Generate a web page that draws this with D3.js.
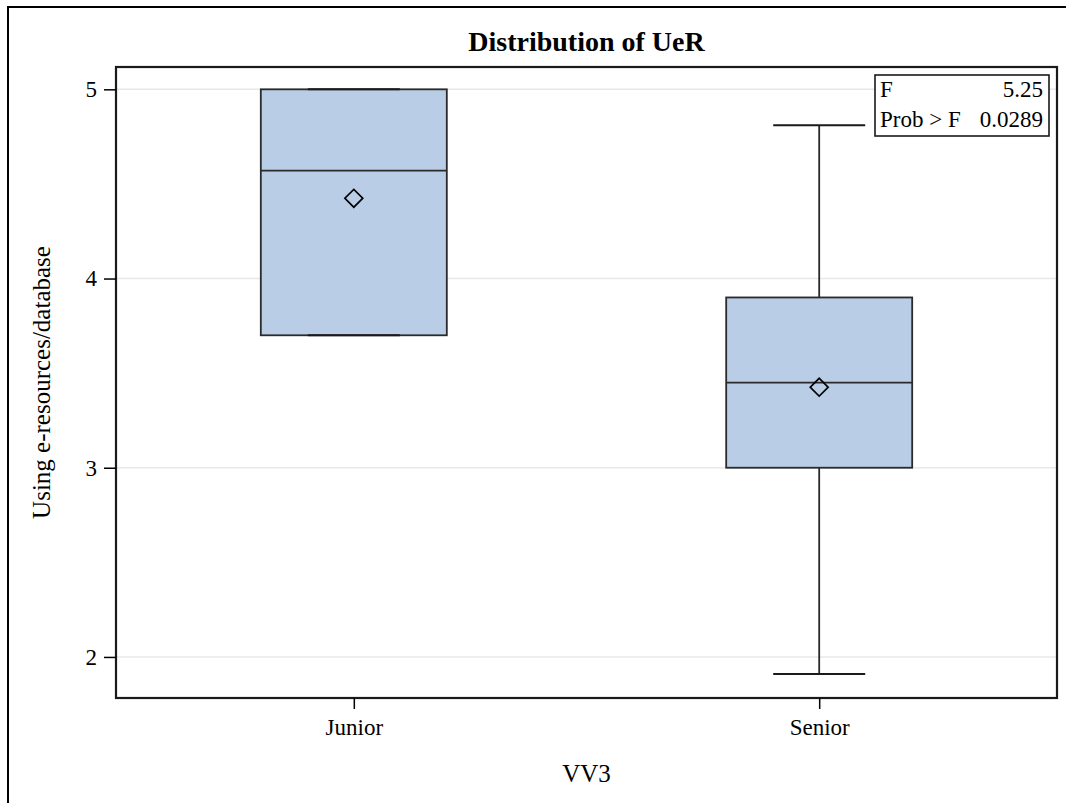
<!DOCTYPE html>
<html>
<head>
<meta charset="utf-8">
<script src="https://cdn.jsdelivr.net/npm/d3@7"></script>
<style>
  html, body { margin: 0; padding: 0; background: #fff; }
  svg { display: block; }
  text { font-family: "Liberation Serif", "Times New Roman", serif; fill: #000; }
</style>
</head>
<body>
<svg id="chart" width="1066" height="803"></svg>
<script>
// ---- data ----
const categories = ["Junior", "Senior"];
const whiskerLow = [3.7, 1.91];
const q1Values = [3.7, 3.0];
const medianValues = [4.57, 3.45];
const q3Values = [5.0, 3.9];
const whiskerHigh = [5.0, 4.81];
const meanValues = [4.424, 3.426];
const yTicks = [2, 3, 4, 5];
const statLabels = ["F", "Prob > F"];
const statValues = ["5.25", "0.0289"];
const titleText = "Distribution of UeR";
const xTitle = "VV3";
const yTitle = "Using e-resources/database";

// ---- layout ----
const W = 1066, H = 803;
const plot = { left: 116, right: 1057, top: 67, bottom: 698 };
const svg = d3.select("#chart");

const boxes = categories.map((c, i) => ({
  cat: c, lo: whiskerLow[i], q1: q1Values[i], med: medianValues[i],
  q3: q3Values[i], hi: whiskerHigh[i], mean: meanValues[i]
}));

const x = d3.scalePoint().domain(categories)
  .range([plot.left, plot.right]).padding(0.511);
const y = d3.scaleLinear().domain([1.783, 5.118])
  .range([plot.bottom, plot.top]);

// outer frame
svg.append("rect").attr("x", 8).attr("y", 7).attr("width", W + 20).attr("height", H + 20)
  .attr("fill", "none").attr("stroke", "#000").attr("stroke-width", 2);

// title
svg.append("text").attr("x", (plot.left + plot.right) / 2).attr("y", 51)
  .attr("text-anchor", "middle").attr("font-size", 28).attr("font-weight", "bold")
  .text(titleText);

// gridlines
svg.append("g").selectAll("line").data(yTicks).join("line")
  .attr("x1", plot.left).attr("x2", plot.right)
  .attr("y1", d => y(d)).attr("y2", d => y(d))
  .attr("stroke", "#e8e8e8").attr("stroke-width", 1.5);

// boxes
const bw = 186, capW = 92;
const g = svg.append("g");
boxes.forEach(b => {
  const cx = x(b.cat);
  // whiskers
  g.append("line").attr("x1", cx).attr("x2", cx).attr("y1", y(b.q3)).attr("y2", y(b.hi))
    .attr("stroke", "#2a2a2a").attr("stroke-width", 1.8);
  g.append("line").attr("x1", cx).attr("x2", cx).attr("y1", y(b.q1)).attr("y2", y(b.lo))
    .attr("stroke", "#2a2a2a").attr("stroke-width", 1.8);
  // box
  g.append("rect").attr("x", cx - bw / 2).attr("width", bw)
    .attr("y", y(b.q3)).attr("height", y(b.q1) - y(b.q3))
    .attr("fill", "#b9cde6").attr("stroke", "#2a2a2a").attr("stroke-width", 1.8);
  // caps
  [b.hi, b.lo].forEach(v => {
    g.append("line").attr("x1", cx - capW / 2).attr("x2", cx + capW / 2)
      .attr("y1", y(v)).attr("y2", y(v)).attr("stroke", "#1a1a1a").attr("stroke-width", 2);
  });
  // median
  g.append("line").attr("x1", cx - bw / 2).attr("x2", cx + bw / 2)
    .attr("y1", y(b.med)).attr("y2", y(b.med)).attr("stroke", "#2a2a2a").attr("stroke-width", 1.8);
  // mean diamond
  g.append("path").attr("d", d3.symbol(d3.symbolSquare, 160)())
    .attr("transform", `translate(${cx},${y(b.mean)}) rotate(45)`)
    .attr("fill", "none").attr("stroke", "#000").attr("stroke-width", 1.7);
});

// plot frame
svg.append("rect").attr("x", plot.left).attr("y", plot.top)
  .attr("width", plot.right - plot.left).attr("height", plot.bottom - plot.top)
  .attr("fill", "none").attr("stroke", "#1a1a1a").attr("stroke-width", 2.2);

// y axis
const yAxis = svg.append("g").attr("transform", `translate(${plot.left},0)`)
  .call(d3.axisLeft(y).tickValues(yTicks).tickSize(12).tickPadding(7).tickFormat(d3.format("d")));
yAxis.select(".domain").remove();
yAxis.selectAll("line").attr("stroke", "#000").attr("stroke-width", 1.5);
yAxis.selectAll("text").attr("font-size", 23).attr("font-family", "Liberation Serif").attr("fill", "#000");

// x axis
const xAxis = svg.append("g").attr("transform", `translate(0,${plot.bottom})`)
  .call(d3.axisBottom(x).tickSize(11).tickPadding(10));
xAxis.select(".domain").remove();
xAxis.selectAll("line").attr("stroke", "#000").attr("stroke-width", 1.5);
xAxis.selectAll("text").attr("font-size", 23).attr("font-family", "Liberation Serif").attr("fill", "#000");

// axis titles
svg.append("text").attr("x", (plot.left + plot.right) / 2).attr("y", 782)
  .attr("text-anchor", "middle").attr("font-size", 25).text(xTitle);
svg.append("text").attr("transform", `translate(50,${(plot.top + plot.bottom) / 2}) rotate(-90)`)
  .attr("text-anchor", "middle").attr("font-size", 25).text(yTitle);

// stats inset
const inset = svg.append("g");
inset.append("rect").attr("x", 875).attr("y", 75).attr("width", 174).attr("height", 61)
  .attr("fill", "#fff").attr("stroke", "#1a1a1a").attr("stroke-width", 1.6);
statLabels.forEach((s, i) => {
  inset.append("text").attr("x", 880).attr("y", 97 + i * 30).attr("font-size", 23).text(s);
  inset.append("text").attr("x", 1043).attr("y", 97 + i * 30).attr("font-size", 23)
    .attr("text-anchor", "end").text(statValues[i]);
});
</script>
</body>
</html>
